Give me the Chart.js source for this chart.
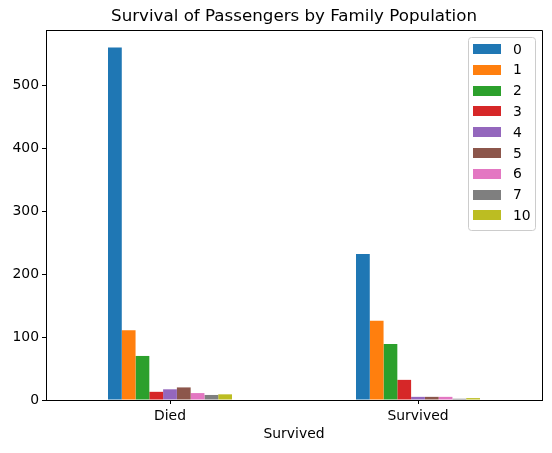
<!DOCTYPE html>
<html>
<head>
<meta charset="utf-8">
<script src="https://cdn.jsdelivr.net/npm/chart.js@4.4.1/dist/chart.umd.min.js"></script>
<style>
  html, body { margin: 0; padding: 0; background: #fff; }
  #wrap { width: 552px; height: 453px; }
</style>
</head>
<body>
<div id="wrap"><canvas id="chart" width="552" height="453"></canvas></div>
<script>
// Data
const categories = ['Died', 'Survived'];
const familySizes = ['0', '1', '2', '3', '4', '5', '6', '7', '10'];
const diedCounts = [560, 111, 70, 13, 17, 20, 11, 8, 9];
const survivedCounts = [232, 126, 89, 32, 5, 5, 5, 2, 3];
const yTicks = [0, 100, 200, 300, 400, 500];
const colors = ['#1f77b4', '#ff7f0e', '#2ca02c', '#d62728', '#9467bd',
                '#8c564b', '#e377c2', '#7f7f7f', '#bcbd22'];
const chartTitle = 'Survival of Passengers by Family Population';

const FONT = '"DejaVu Sans", sans-serif';

const datasets = familySizes.map((size, i) => ({
    label: size,
    data: [diedCounts[i], survivedCounts[i]],
    backgroundColor: colors[i],
    borderWidth: 0,
    categoryPercentage: 0.5,
    barPercentage: 1.0
}));

// top + right spines, title centred over the axes
const boxPlugin = {
    id: 'box',
    afterDraw(chart) {
        const { ctx, chartArea: a } = chart;
        ctx.save();
        ctx.strokeStyle = '#000';
        ctx.lineWidth = 1;
        ctx.beginPath();
        ctx.moveTo(a.left, a.top + 0.5);
        ctx.lineTo(a.right + 0.5, a.top + 0.5);
        ctx.lineTo(a.right + 0.5, a.bottom);
        ctx.stroke();

        ctx.fillStyle = '#000';
        ctx.font = '16.7px ' + FONT;
        ctx.textAlign = 'center';
        ctx.textBaseline = 'middle';
        ctx.fillText(chartTitle, (a.left + a.right) / 2, 17);
        ctx.restore();
    }
};

// matplotlib-ish legend in the upper right corner
const legendPlugin = {
    id: 'mplLegend',
    afterDraw(chart) {
        const { ctx, chartArea: a } = chart;
        const sets = chart.data.datasets;
        const rowH = 20.8;
        const w = 67, h = 193;
        const x = a.right - 7 - w, y = a.top + 7;
        ctx.save();
        ctx.fillStyle = 'rgba(255,255,255,0.8)';
        ctx.strokeStyle = '#cccccc';
        ctx.lineWidth = 1;
        ctx.beginPath();
        ctx.roundRect(x + 0.5, y + 0.5, w, h, 3);
        ctx.fill();
        ctx.stroke();
        ctx.font = '13.9px ' + FONT;
        ctx.textBaseline = 'middle';
        ctx.textAlign = 'left';
        sets.forEach((ds, i) => {
            const cy = y + 12 + i * rowH;
            ctx.fillStyle = ds.backgroundColor;
            ctx.fillRect(x + 5, Math.round(cy - 5), 28, 10);
            ctx.fillStyle = '#000';
            ctx.fillText(ds.label, x + 45, cy + 1);
        });
        ctx.restore();
    }
};

new Chart(document.getElementById('chart'), {
    type: 'bar',
    data: { labels: categories, datasets: datasets },
    options: {
        responsive: false,
        animation: false,
        devicePixelRatio: 1,
        layout: { padding: { left: 0, right: 10, top: 30, bottom: 0 } },
        plugins: {
            legend: { display: false },
            tooltip: { enabled: false },
            title: { display: false }
        },
        scales: {
            x: {
                offset: true,
                grid: { display: true, offset: false, drawOnChartArea: false, tickLength: 4, color: '#000', tickColor: '#000' },
                border: { display: true, color: '#000', width: 1 },
                ticks: { color: '#000', padding: 4, font: { family: FONT, size: 13.9 } },
                title: {
                    display: true,
                    text: 'Survived',
                    color: '#000',
                    font: { family: FONT, size: 13.9 },
                    padding: { top: 0, bottom: 10 }
                },
                afterFit(scale) { scale.height = 53; }
            },
            y: {
                min: 0,
                max: 588,
                grid: { display: true, drawOnChartArea: false, tickLength: 4, color: '#000', tickColor: '#000' },
                border: { display: true, color: '#000', width: 1 },
                ticks: { color: '#000', padding: 3, font: { family: FONT, size: 13.9 } },
                afterBuildTicks(scale) {
                    scale.ticks = yTicks.map(v => ({ value: v }));
                },
                afterFit(scale) { scale.width = 46; }
            }
        }
    },
    plugins: [boxPlugin, legendPlugin]
});
</script>
</body>
</html>
